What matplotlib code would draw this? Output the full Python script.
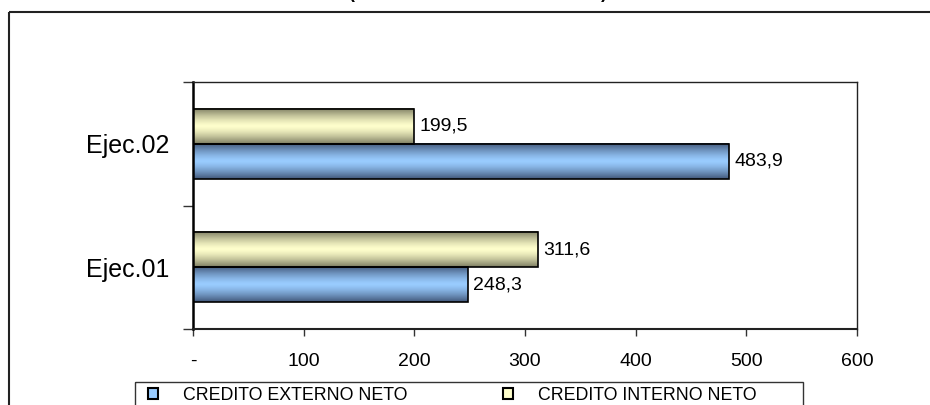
import numpy as np
import matplotlib
matplotlib.use("Agg")
import matplotlib.pyplot as plt
from matplotlib.patches import Rectangle
from matplotlib.colors import to_rgb

plt.rcParams['font.family'] = ['Liberation Sans', 'DejaVu Sans']

# Data
categories = ["Ejec.01", "Ejec.02"]
credito_externo = [248.3, 483.9]
credito_interno = [311.6, 199.5]
series_labels = ["CREDITO EXTERNO NETO", "CREDITO INTERNO NETO"]
x_ticks = [0, 100, 200, 300, 400, 500, 600]
x_ticklabels = ["-", "100", "200", "300", "400", "500", "600"]
subtitle = "(En millones de nuevos soles)"

# Gradient colours (edge, centre) for each series
blue_edge, blue_mid = "#42587a", "#99ccff"
yell_edge, yell_mid = "#7e7e62", "#ffffcc"

W, H, DPI = 930, 405, 100
fig = plt.figure(figsize=(W / DPI, H / DPI), dpi=DPI)
fig.patch.set_facecolor("white")

# Outer chart frame
fig.patches.append(Rectangle((9 / W, 1 - 12 / H), 2.0, -2.0, transform=fig.transFigure,
                             fill=False, edgecolor="#222222", linewidth=1.5, zorder=0))

# Heading sits above the frame; only its lower edge falls inside the canvas
fig.text(477.5 / W, 1 + 1.5 / H, subtitle, ha="center", va="baseline",
         fontsize=13, fontweight="bold")

ax = fig.add_axes([193 / W, 1 - 329 / H, (857 - 193) / W, (329 - 82) / H])

y = np.arange(len(categories)) + 0.5
bh = 0.285


def gradient_fill(ax, patch, edge, mid):
    x0, y0 = patch.get_x(), patch.get_y()
    w, h = patch.get_width(), patch.get_height()
    t = np.linspace(0, 1, 64)
    f = 1 - np.abs(2 * t - 1) ** 1.4
    e, m = np.array(to_rgb(edge)), np.array(to_rgb(mid))
    cols = e[None, :] + (m - e)[None, :] * f[:, None]
    img = cols[:, None, :]
    ax.imshow(img, extent=[x0, x0 + w, y0, y0 + h], aspect="auto",
              interpolation="bilinear", zorder=2, origin="lower")


bars_ext = ax.barh(y - bh / 2, credito_externo, height=bh, color=blue_mid,
                   edgecolor="black", linewidth=1.2, zorder=3, label=series_labels[0])
bars_int = ax.barh(y + bh / 2, credito_interno, height=bh, color=yell_mid,
                   edgecolor="black", linewidth=1.2, zorder=3, label=series_labels[1])

for bars, edge, mid in [(bars_ext, blue_edge, blue_mid), (bars_int, yell_edge, yell_mid)]:
    for p in bars:
        gradient_fill(ax, p, edge, mid)
        p.set_facecolor("none")

for bars, vals in [(bars_ext, credito_externo), (bars_int, credito_interno)]:
    for p, v in zip(bars, vals):
        ax.annotate(f"{v:.1f}".replace(".", ","),
                    xy=(p.get_x() + p.get_width(), p.get_y() + p.get_height() / 2),
                    xytext=(4, 0), textcoords="offset points",
                    ha="left", va="center", fontsize=14)

ax.set_xlim(0, 600)
ax.set_ylim(0, len(categories))

ax.set_xticks(x_ticks)
ax.set_xticklabels(x_ticklabels, fontsize=14)
ax.tick_params(axis="x", direction="out", length=5, width=1, color="#333333", pad=12)

ax.set_yticks(np.arange(len(categories) + 1))
ax.set_yticklabels([])
ax.set_yticks(y, minor=True)
ax.set_yticklabels(categories, minor=True, fontsize=18)
ax.tick_params(axis="y", which="major", direction="out", length=7, width=1, color="#333333")
ax.tick_params(axis="y", which="minor", length=0, pad=17)

for side in ["top", "right", "bottom"]:
    ax.spines[side].set_linewidth(1.0)
    ax.spines[side].set_color("#222222")
ax.spines["bottom"].set_linewidth(1.5)
ax.spines["left"].set_linewidth(1.8)
ax.spines["left"].set_color("black")

# Legend box below the plot area, running past the bottom edge
fig.patches.append(Rectangle((135 / W, 1 - 382 / H), (803 - 135) / W, -0.2,
                             transform=fig.transFigure, fill=False,
                             edgecolor="#333333", linewidth=1.0, zorder=1))
leg = fig.legend(handles=[bars_ext, bars_int], labels=series_labels,
                 loc="upper left", bbox_to_anchor=(141 / W, 1 - 380 / H),
                 ncol=2, fontsize=12.8, frameon=False,
                 handlelength=0.55, handleheight=0.55, handletextpad=1.4,
                 columnspacing=5.4, borderpad=0.4, borderaxespad=0)
for h, c in zip(leg.legend_handles, [blue_mid, yell_mid]):
    h.set_facecolor(c)
    h.set_edgecolor("black")
    h.set_linewidth(1.5)

fig.savefig("out.png", dpi=DPI)
